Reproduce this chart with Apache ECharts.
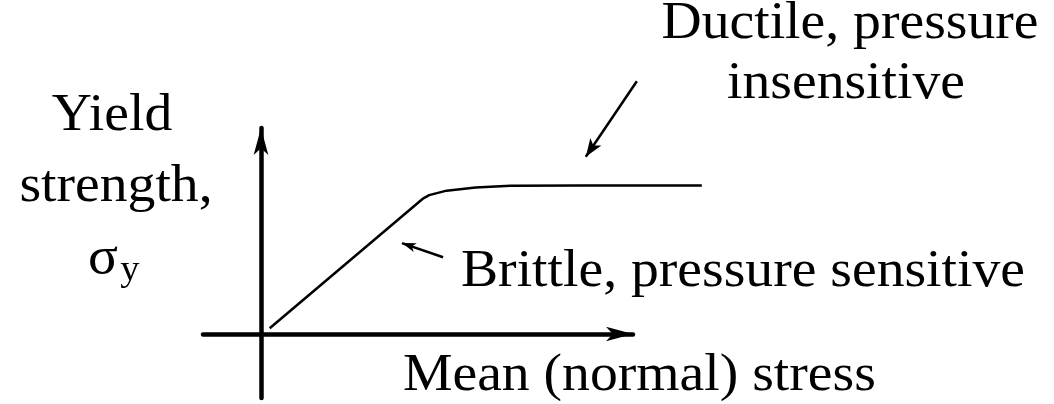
<!DOCTYPE html>
<html>
<head>
<meta charset="utf-8">
<script src="https://cdn.jsdelivr.net/npm/echarts@6/dist/echarts.min.js"></script>
<style>
  html, body { margin: 0; padding: 0; background: #fff; }
  #chart { width: 1054px; height: 404px; }
</style>
</head>
<body>
<div id="chart"></div>
<script>
// curve: mean stress vs yield strength (arbitrary units)
var stress = [0.15, 2.8, 2.9, 3.2, 3.7, 4.3, 5.5, 7.6];
var yieldStrength = [0.09, 2.12, 2.17, 2.24, 2.29, 2.315, 2.32, 2.32];

// annotation arrows: [tailX, tailY, tipX, tipY]
var ductileArrow = [6.48, 3.95, 5.60, 2.77];
var brittleArrow = [3.14, 1.20, 2.43, 1.42];

var FONT = '"Liberation Serif", "Times New Roman", serif';

var chart = echarts.init(document.getElementById("chart"));

var curve = stress.map(function (x, i) { return [x, yieldStrength[i]]; });

function arrowLine(a, size) {
  return [
    { coord: [a[0], a[1]], symbol: "none" },
    { coord: [a[2], a[3]], symbol: "arrow", symbolSize: size }
  ];
}

function txt(str, x, y, size, align) {
  return {
    type: "text",
    x: x,
    y: y,
    scaleX: 1.07,
    silent: true,
    style: {
      text: str,
      font: size + "px " + FONT,
      fill: "#000",
      align: align,
      textAlign: align,
      verticalAlign: "middle",
      textVerticalAlign: "middle"
    }
  };
}

function hiddenAxis(idx, min, max) {
  return { type: "value", gridIndex: idx, min: min, max: max, show: false };
}

function arrowAxis(min, max) {
  return {
    type: "value",
    gridIndex: 0,
    min: min,
    max: max,
    axisLine: {
      onZero: true,
      symbol: ["none", "arrow"],
      symbolSize: [11, 27],
      lineStyle: { color: "#000", width: 4.5 }
    },
    axisTick: { show: false },
    axisLabel: { show: false },
    splitLine: { show: false }
  };
}

// both grids share the same scale: 58 px per x unit, 64 px per y unit
var option = {
  animation: false,
  grid: [
    { left: 203, right: 421, top: 128, bottom: 6 },
    { left: 203, right: 340.6, top: 65.2, bottom: 6 }
  ],
  xAxis: [arrowAxis(-1, 6.414), hiddenAxis(1, -1, 7.8)],
  yAxis: [arrowAxis(-1, 3.219), hiddenAxis(1, -1, 4.2)],
  series: [
    {
      type: "line",
      xAxisIndex: 1,
      yAxisIndex: 1,
      data: curve,
      showSymbol: false,
      silent: true,
      lineStyle: { color: "#000", width: 2.5 },
      markLine: {
        silent: true,
        animation: false,
        label: { show: false },
        lineStyle: { color: "#000", width: 2.5, type: "solid" },
        data: [arrowLine(ductileArrow, [10, 18]), arrowLine(brittleArrow, [7, 14])]
      }
    }
  ],
  graphic: [
    txt("Yield", 112, 132 - 16, 52, "center"),
    txt("strength,", 116, 203 - 16, 52, "center"),
    txt("σ", 103, 275 - 16, 52, "center"),
    txt("y", 130, 282 - 11, 36, "center"),
    txt("Ductile, pressure", 850, 39 - 15, 52, "center"),
    txt("insensitive", 846, 100 - 16, 52, "center"),
    txt("Brittle, pressure sensitive", 461, 288 - 16, 52, "left"),
    txt("Mean (normal) stress", 403, 392 - 16, 52, "left")
  ]
};

chart.setOption(option);
</script>
</body>
</html>
